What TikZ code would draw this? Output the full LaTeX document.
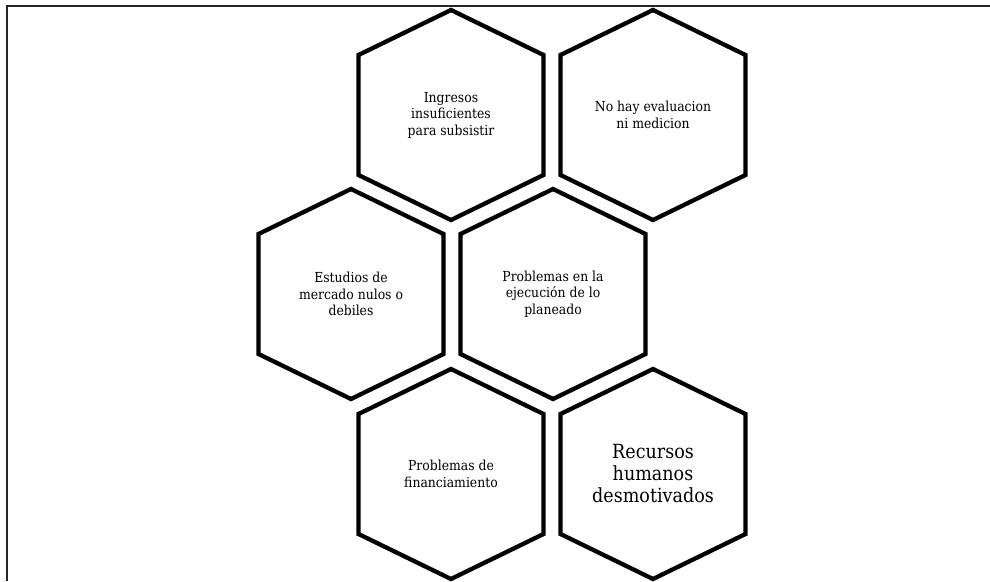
\documentclass[tikz,border=0pt]{standalone}
\usepackage{fontspec}
\setmainfont{DejaVu Serif Condensed}
\begin{document}
\begin{tikzpicture}[x=1pt,y=-1pt,
  hexline/.style={line width=4.3pt, line join=miter},
  lbl/.style={align=center, font=\fontsize{13.8}{16.5}\selectfont, inner sep=0pt},
  biglbl/.style={align=center, font=\fontsize{19.5}{22}\selectfont, inner sep=0pt},
  frame/.style={line width=1.5pt, black!85}]
\useasboundingbox (0,0) rectangle (990,581);
\draw[frame] (7,581) -- (7,6) -- (990,6);
\node[lbl] (h1) at (451,115) {Ingresos\\insuficientes\\para subsistir};
\node[lbl] (h2) at (653,115) {No hay evaluacion\\ni medicion};
\node[lbl] (h3) at (351,294) {Estudios de\\mercado nulos o\\debiles};
\node[lbl] (h4) at (553,294) {Problemas en la\\ejecución de lo\\planeado};
\node[lbl] (h5) at (451,474) {Problemas de\\financiamiento};
\node[biglbl] (h6) at (653,474) {Recursos\\humanos\\desmotivados};
\foreach \n in {h1,h2,h3,h4,h5,h6}
  \draw[hexline, shift={(\n.center)}] (0,-105) -- (92.5,-60) -- (92.5,60) -- (0,105) -- (-92.5,60) -- (-92.5,-60) -- cycle;
\end{tikzpicture}
\end{document}
